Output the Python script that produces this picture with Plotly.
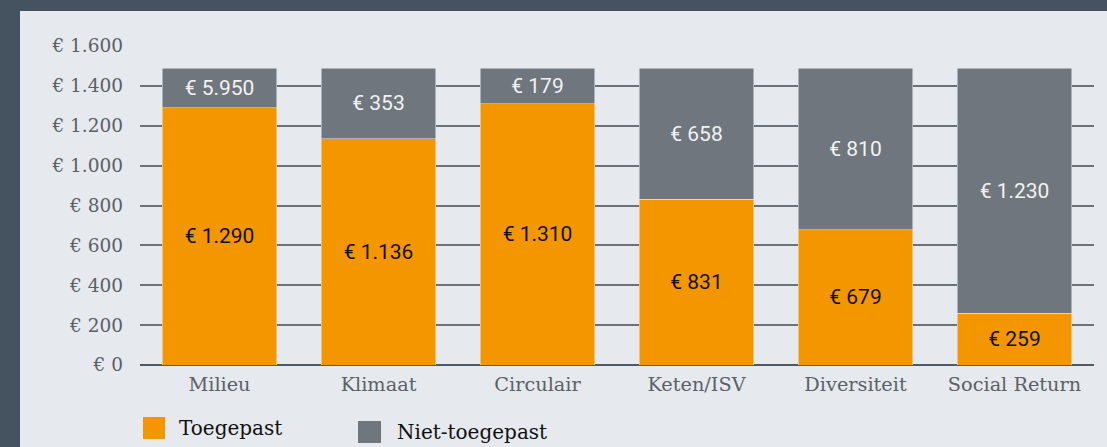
import plotly.graph_objects as go

categories = ["Milieu", "Klimaat", "Circulair", "Keten/ISV", "Diversiteit", "Social Return"]
toegepast = [1290, 1136, 1310, 831, 679, 259]
niet_toegepast = [5950, 353, 179, 658, 810, 1230]
bar_cap = 1489  # stacked bars are visually capped at this total
tick_vals = [0, 200, 400, 600, 800, 1000, 1200, 1400, 1600]
tick_text = ["€ 0", "€ 200", "€ 400", "€ 600", "€ 800", "€ 1.000", "€ 1.200", "€ 1.400", "€ 1.600"]

def eur(v):
    return "€ " + f"{v:,}".replace(",", ".")

niet_shown = [min(n, bar_cap - t) for t, n in zip(toegepast, niet_toegepast)]

ORANGE = "#f39600"
GREY = "#6f767d"
DARK = "#44535f"
LIGHT = "#e6e9ee"

W, H = 1107, 447
ML, MR, MT, MB = 140, 13, 46, 82
PW, PH = W - ML - MR, H - MT - MB

def px(x):
    return (x - ML) / PW

def py(y):
    return (H - MB - y) / PH

fig = go.Figure()
fig.add_trace(go.Bar(
    x=categories, y=toegepast, name="Toegepast", marker_color=ORANGE,
    text=[eur(v) for v in toegepast], textposition="inside", insidetextanchor="middle",
    textfont=dict(family="Roboto", size=21, color="#111111"), showlegend=False,
    hoverinfo="skip",
))
fig.add_trace(go.Bar(
    x=categories, y=niet_shown, name="Niet-toegepast", marker_color=GREY,
    text=[eur(v) for v in niet_toegepast], textposition="inside", insidetextanchor="middle",
    textfont=dict(family="Roboto", size=21, color="#f2f2f2"), showlegend=False,
    hoverinfo="skip",
))

shapes = [
    dict(type="rect", xref="paper", yref="paper", x0=px(0), x1=px(20), y0=py(H), y1=py(0),
         fillcolor=DARK, line_width=0, layer="below"),
    dict(type="rect", xref="paper", yref="paper", x0=px(0), x1=px(W), y0=py(11), y1=py(0),
         fillcolor=DARK, line_width=0, layer="below"),
    dict(type="rect", xref="paper", yref="paper", x0=px(143), x1=px(165), y0=py(439), y1=py(417),
         fillcolor=ORANGE, line_width=0),
    dict(type="rect", xref="paper", yref="paper", x0=px(358), x1=px(381), y0=py(443), y1=py(421),
         fillcolor=GREY, line_width=0),
]
annotations = [
    dict(xref="paper", yref="paper", x=px(177), y=py(428), text="Toegepast", showarrow=False,
         xanchor="left", yanchor="middle", font=dict(family="DejaVu Serif", size=20, color="#111111")),
    dict(xref="paper", yref="paper", x=px(395), y=py(432), text="Niet-toegepast", showarrow=False,
         xanchor="left", yanchor="middle", font=dict(family="DejaVu Serif", size=20, color="#111111")),
]

fig.update_layout(
    width=W, height=H,
    margin=dict(l=ML, r=MR, t=MT, b=MB, pad=0),
    paper_bgcolor=LIGHT, plot_bgcolor=LIGHT,
    barmode="stack", bargap=0.277,
    shapes=shapes, annotations=annotations,
    showlegend=False,
    xaxis=dict(showgrid=False, ticks="", showline=False, zeroline=False,
               tickfont=dict(family="DejaVu Serif", size=19.3, color="#5a6166"),
               ticklabelstandoff=6),
    yaxis=dict(range=[0, 1600], tickvals=tick_vals, ticktext=tick_text,
               showgrid=True, gridcolor="#6b7379", gridwidth=1.5,
               zeroline=True, zerolinecolor="#4f5a62", zerolinewidth=2,
               ticks="", showline=False,
               tickfont=dict(family="DejaVu Serif", size=18.5, color="#5a6166"),
               ticklabelstandoff=16),
    uniformtext=dict(mode=False),
)

fig.write_html(
    "out.html",
    config={"displayModeBar": False},
    post_script="document.body.style.margin='0';document.body.style.overflow='hidden';",
)
